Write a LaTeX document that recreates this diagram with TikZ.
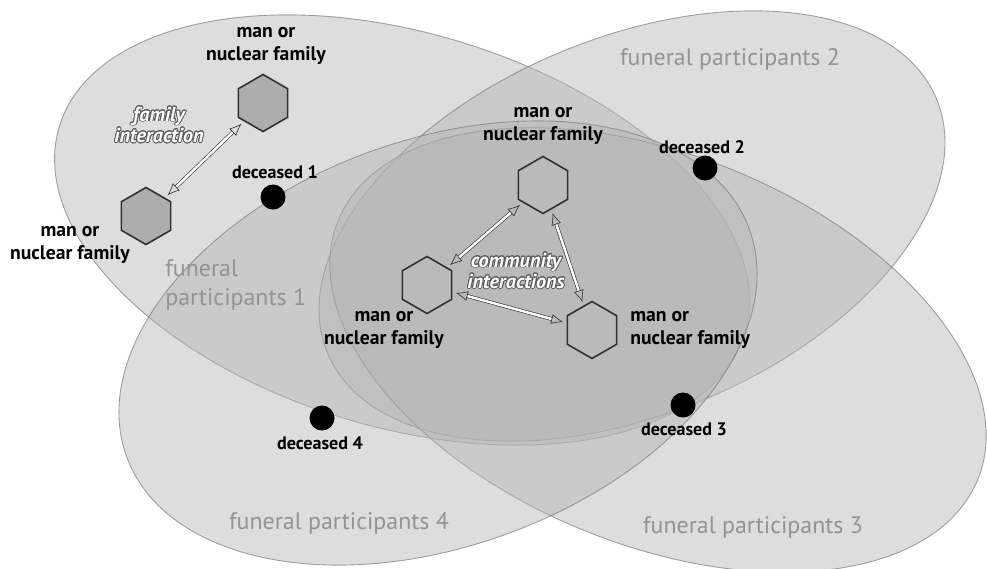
\documentclass[tikz,border=0pt]{standalone}
\usepackage{fontspec}
\setmainfont{PT Sans}
\usepackage{contour}
\contourlength{0.5pt}
\usetikzlibrary{arrows.meta,positioning,shapes.geometric}
\definecolor{GroupGrey}{HTML}{B4B4B4}
\definecolor{GroupEdge}{HTML}{7A7A7A}
\definecolor{HexInk}{HTML}{303030}
\definecolor{HexFill}{HTML}{ADADAD}
\definecolor{LabelGrey}{HTML}{939393}

\begin{document}
\begin{tikzpicture}[
  group/.style={fill=GroupGrey, fill opacity=0.46, draw=GroupEdge,
                draw opacity=0.7, line width=0.5pt},
  household/.style={regular polygon, regular polygon sides=6,
                    shape border rotate=30, minimum size=1.14cm,
                    inner sep=0pt, draw=HexInk, line width=0.9pt},
  kin/.style={household, fill=HexFill},
  dead/.style={circle, fill=black, minimum size=0.5cm, inner sep=0pt},
  who/.style={font=\fontsize{11.2}{13}\selectfont\bfseries,
              align=center, inner sep=0pt},
  deadtext/.style={font=\fontsize{10.3}{12}\selectfont\bfseries, inner sep=0pt},
  crowd/.style={font=\fontsize{13.6}{16.5}\selectfont, text=LabelGrey,
                inner sep=0pt},
  tie/.style={font=\fontsize{11.5}{10.6}\selectfont\bfseries\itshape,
              text=white, align=center, inner sep=0pt},
  link/.style={{Latex[open,length=2.4mm,width=2mm]}-{Latex[open,length=2.4mm,width=2mm]},
               draw=HexInk, line width=0.35pt, double=white,
               double distance=1.4pt, shorten >=2pt, shorten <=2pt}
]
\useasboundingbox (0,0) rectangle (19.74,-11.36);

% the four groups of funeral participants
\draw[group, rotate around={-16.8:(8.04,-4.60)}] (8.04,-4.60) ellipse (7.16 and 3.94);
\draw[group, rotate around={22.7:(12.64,-4.52)}] (12.64,-4.52) ellipse (6.60 and 3.76);
\draw[group, rotate around={-22:(13.16,-7.00)}] (13.16,-7.00) ellipse (6.90 and 3.90);
\draw[group, rotate around={20.1:(8.76,-6.86)}] (8.76,-6.86) ellipse (6.63 and 4.06);

\node[crowd, anchor=west, align=left] (fp1) at (3.30,-5.70) {funeral\\participants 1};
\node[crowd] (fp2) at (14.60,-1.18) {funeral participants 2};
\node[crowd] (fp3) at (15.06,-10.54) {funeral participants 3};
\node[crowd] (fp4) at (6.78,-10.46) {funeral participants 4};

% deceased
\node[dead] (d1) at (5.46,-3.94) {};
\node[dead] (d2) at (14.10,-3.36) {};
\node[dead] (d3) at (13.66,-8.10) {};
\node[dead] (d4) at (6.44,-8.36) {};
\node[deadtext] (d1t) at (5.50,-3.44) {deceased 1};
\node[deadtext] (d2t) at (14.04,-2.94) {deceased 2};
\node[deadtext] (d3t) at (13.68,-8.58) {deceased 3};
\node[deadtext] (d4t) at (6.40,-8.86) {deceased 4};

% households
\node[kin] (h1) at (5.26,-2.06) {};
\node[kin] (h2) at (2.92,-4.32) {};
\node[household] (h3) at (10.86,-3.70) {};
\node[household] (h4) at (8.54,-5.70) {};
\node[household] (h5) at (11.84,-6.60) {};
\node[who] (h1t) at (5.32,-0.92) {man or\\nuclear family};
\node[who] (h2t) at (1.40,-4.90) {man or\\nuclear family};
\node[who] (h3t) at (10.86,-2.52) {man or\\nuclear family};
\node[who] (h4t) at (7.68,-6.60) {man or\\nuclear family};
\node[who, anchor=west, align=left] (h5t) at (12.60,-6.60) {man or\\nuclear family};

% interactions
\node[tie] (kint) at (3.18,-2.50) {\contour{black!65}{family}\\\contour{black!65}{interaction}};
\node[tie] (comt) at (10.32,-5.42) {\contour{black!65}{community}\\\contour{black!65}{interactions}};
\draw[link] (h1) -- (h2);
\draw[link] (h3) -- (h4);
\draw[link] (h3) -- (h5);
\draw[link] (h4) -- (h5);
\end{tikzpicture}
\end{document}
